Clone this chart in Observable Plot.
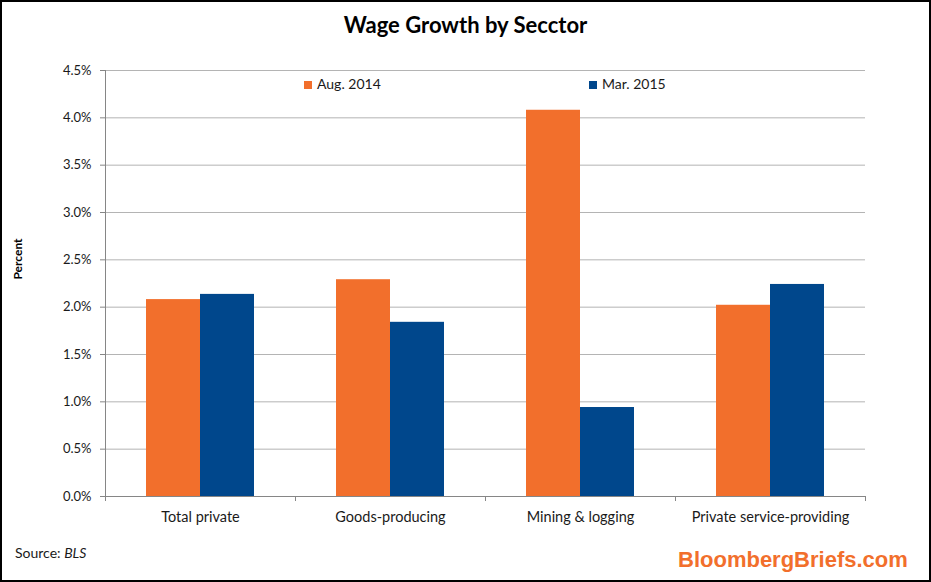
<!DOCTYPE html>
<html>
<head>
<meta charset="utf-8">
<script src="https://cdn.jsdelivr.net/npm/d3@7"></script>
<script src="https://cdn.jsdelivr.net/npm/@observablehq/plot@0.6"></script>
<style>
  html, body { margin: 0; padding: 0; background: #fff; }
  #frame { position: relative; width: 931px; height: 582px; box-sizing: border-box; border: 2px solid #000; overflow: hidden; font-family: Lato, "Open Sans", sans-serif; }
  #chart { position: absolute; left: 0px; top: 0px; }
  .abs { position: absolute; white-space: nowrap; }
  #title { left: 0; width: 927px; top: 9px; text-align: center; font-weight: bold; font-size: 22px; color: #000; }
  #ylabel { left: 15px; top: 257px; transform: translate(-50%, -50%) rotate(-90deg); font-weight: bold; font-size: 12px; color: #000; }
  .leg { top: 73px; font-size: 14px; color: #1a1a1a; }
  .sw { display: inline-block; width: 8px; height: 8px; margin-right: 5px; vertical-align: 0px; }
  #source { left: 13px; top: 542px; font-size: 14px; color: #1a1a1a; }
  #brand { left: 676px; top: 545px; font-family: "Liberation Sans", Arial, sans-serif; font-weight: bold; font-size: 22px; color: #f26f2c; }
</style>
</head>
<body>
<div id="frame">
  <div id="chart"></div>
  <div id="title" class="abs">Wage Growth by Secctor</div>
  <div id="ylabel" class="abs">Percent</div>
  <div class="abs leg" id="leg1" style="left:302px"><span class="sw" style="background:#f26f2c"></span>Aug. 2014</div>
  <div class="abs leg" id="leg2" style="left:587px"><span class="sw" style="background:#00478c"></span>Mar. 2015</div>
  <div id="source" class="abs">Source: <i>BLS</i></div>
  <div id="brand" class="abs">BloombergBriefs.com</div>
</div>
<script>
const categories = ["Total private", "Goods-producing", "Mining & logging", "Private service-providing"];
const aug2014 = [2.08, 2.29, 4.08, 2.02];
const mar2015 = [2.135, 1.84, 0.94, 2.24];
const yTicks = [0, 0.5, 1.0, 1.5, 2.0, 2.5, 3.0, 3.5, 4.0, 4.5];
const seriesNames = ["Aug. 2014", "Mar. 2015"];
const seriesColors = ["#f26f2c", "#00478c"];

const augData = categories.map((c, i) => ({category: c, value: aug2014[i]}));
const marData = categories.map((c, i) => ({category: c, value: mar2015[i]}));

const W = 927, H = 578;
const mTop = 68, mBottom = 84, mLeft = 103, mRight = 64;
const bandW = (W - mLeft - mRight) / categories.length;
const tickLenData = 5 * 4.5 / (H - mTop - mBottom);

const plot = Plot.plot({
  width: W,
  height: H,
  marginTop: mTop,
  marginBottom: mBottom,
  marginLeft: mLeft,
  marginRight: mRight,
  style: {fontFamily: "Lato, 'Open Sans', sans-serif", fontSize: "13px", color: "#1a1a1a", background: "transparent"},
  x: {domain: categories, padding: 0, label: null},
  y: {domain: [0, 4.5], label: null},
  marks: [
    Plot.ruleY(yTicks.filter(d => d > 0), {stroke: "#b4b4b4", strokeWidth: 1}),
    Plot.barY(augData, {x: "category", y: "value", fill: seriesColors[0], insetLeft: 41, insetRight: 95}),
    Plot.barY(marData, {x: "category", y: "value", fill: seriesColors[1], insetLeft: 95, insetRight: 41}),
    Plot.axisY({ticks: yTicks, tickFormat: d => d.toFixed(1) + "%", tickSize: 5, tickPadding: 9, stroke: "#868686", fontSize: 13, label: null}),
    Plot.axisX({tickSize: 0, tickPadding: 15, fontSize: 14.5, label: null}),
    Plot.ruleX([0], {x: () => categories[0], dx: -bandW / 2, y1: 0, y2: 4.5, stroke: "#868686"}),
    Plot.ruleY([0], {stroke: "#868686"}),
    Plot.ruleX(categories, {x: d => d, dx: -bandW / 2, y1: 0, y2: -tickLenData, stroke: "#868686"}),
    Plot.ruleX([categories[categories.length - 1]], {x: d => d, dx: bandW / 2, y1: 0, y2: -tickLenData, stroke: "#868686"})
  ]
});
document.getElementById("chart").appendChild(plot);
</script>
</body>
</html>
